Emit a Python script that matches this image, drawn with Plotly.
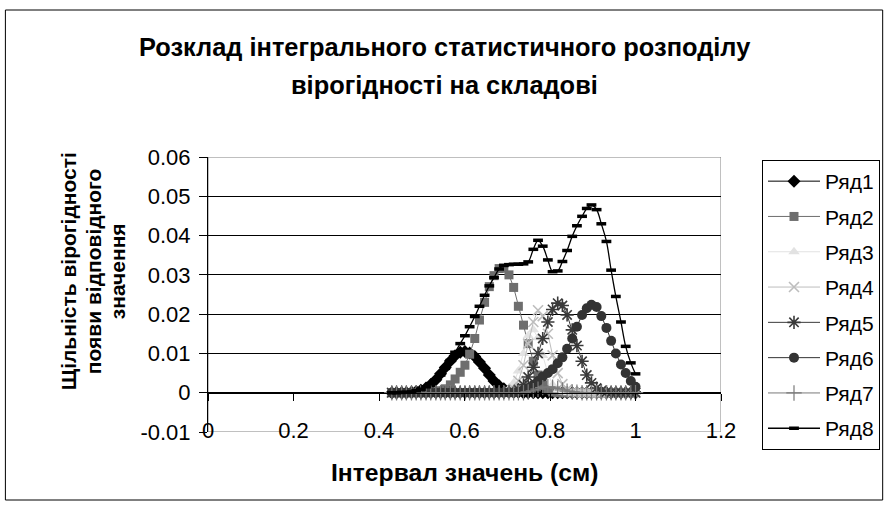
import plotly.graph_objects as go

# ---- data -------------------------------------------------------------
x_values = [0.430, 0.441, 0.453, 0.464, 0.476, 0.487, 0.498, 0.510, 0.521, 0.533,
            0.544, 0.555, 0.567, 0.578, 0.590, 0.601, 0.612, 0.624, 0.635, 0.647,
            0.658, 0.669, 0.681, 0.692, 0.704, 0.715, 0.726, 0.738, 0.749, 0.761,
            0.772, 0.783, 0.795, 0.806, 0.818, 0.829, 0.840, 0.852, 0.863, 0.875,
            0.886, 0.897, 0.909, 0.920, 0.932, 0.943, 0.954, 0.966, 0.977, 0.989,
            1.000]

ryad1 = [0, 0, 0, 0, 0.0001, 0.0003, 0.0006, 0.0012, 0.0021, 0.0033,
         0.0048, 0.0064, 0.0081, 0.0094, 0.0103, 0.0105, 0.0101, 0.0092, 0.0078, 0.0062,
         0.0045, 0.0030, 0.0018, 0.0010, 0.0005, 0.0002, 0.0001] + [0] * 24

ryad2 = [0] * 8 + [0.0001, 0.0002,
         0.0005, 0.0010, 0.0020, 0.0035, 0.0052, 0.0070, 0.0098, 0.0138, 0.0185, 0.0230,
         0.0270, 0.0298, 0.0316, 0.0317, 0.0300, 0.0268, 0.0220, 0.0172, 0.0125, 0.0080,
         0.0045, 0.0020, 0.0008, 0.0002] + [0] * 17

ryad3 = [0] * 22 + [0.0002, 0.0004, 0.0010, 0.0025, 0.0055, 0.0100, 0.0145, 0.0160,
                    0.0140, 0.0095, 0.0050, 0.0020, 0.0007, 0.0002] + [0] * 15

ryad4 = [0] * 24 + [0.0003, 0.0010, 0.0030, 0.0070, 0.0125, 0.0180, 0.0210, 0.0195,
                    0.0150, 0.0095, 0.0050, 0.0022, 0.0008, 0.0002] + [0] * 13

ryad5 = [0] * 23 + [0.0001, 0.0002, 0.0003, 0.0008, 0.0020, 0.0040, 0.0065, 0.0100,
                    0.0138, 0.0180, 0.0212, 0.0228, 0.0222, 0.0198, 0.0160, 0.0120,
                    0.0080, 0.0045, 0.0025, 0.0012, 0.0005, 0.0002] + [0] * 6

ryad6 = [0] * 26 + [0.0003, 0.0006, 0.0012, 0.0020, 0.0030, 0.0041, 0.0050, 0.0060,
                    0.0075, 0.0090, 0.0112, 0.0138, 0.0168, 0.0198, 0.0215, 0.0224,
                    0.0218, 0.0195, 0.0165, 0.0132, 0.0100, 0.0072, 0.0050, 0.0030,
                    0.0015]

ryad7 = [0] * 28 + [0.0002, 0.0005, 0.0009, 0.0013, 0.0015, 0.0014, 0.0011, 0.0007,
                    0.0004, 0.0002, 0.0001] + [0] * 12

ryad8 = [0.0000, 0.0000, 0.0001, 0.0001, 0.0002, 0.0005, 0.0009, 0.0015, 0.0023, 0.0033,
         0.0045, 0.0062, 0.0082, 0.0103, 0.0125, 0.0145, 0.0168, 0.0194, 0.0220, 0.0248,
         0.0272, 0.0293, 0.0315, 0.0324, 0.0326, 0.0327, 0.0327, 0.0328, 0.0333, 0.0365,
         0.0388, 0.0373, 0.0338, 0.0308, 0.0310, 0.0334, 0.0362, 0.0398, 0.0425, 0.0449,
         0.0469, 0.0478, 0.0466, 0.0430, 0.0385, 0.0312, 0.0245, 0.0180, 0.0118, 0.0076,
         0.0048]

series_names = ["Ряд1", "Ряд2", "Ряд3", "Ряд4", "Ряд5", "Ряд6", "Ряд7", "Ряд8"]
series_values = [ryad1, ryad2, ryad3, ryad4, ryad5, ryad6, ryad7, ryad8]

x_tick_values = [0, 0.2, 0.4, 0.6, 0.8, 1.0, 1.2]
x_tick_labels = ["0", "0.2", "0.4", "0.6", "0.8", "1", "1.2"]
y_tick_values = [-0.01, 0, 0.01, 0.02, 0.03, 0.04, 0.05, 0.06]
y_tick_labels = ["-0.01", "0", "0.01", "0.02", "0.03", "0.04", "0.05", "0.06"]

title_lines = ["Розклад інтегрального статистичного розподілу", "вірогідності на складові"]
x_title = "Інтервал значень (см)"
y_title_lines = ["Щільність вірогідності", "появи відповідного", "значення"]

# ---- styles ------------------------------------------------------------
styles = [
    dict(symbol="diamond", color="#000000", size=10, lw=0, lc="#000000", line="#000000"),
    dict(symbol="square", color="#6e6e6e", size=9, lw=0, lc="#6e6e6e", line="#6e6e6e"),
    dict(symbol="triangle-up", color="#e2e2e2", size=10, lw=0, lc="#e2e2e2", line="#e2e2e2"),
    dict(symbol="x-thin-open", color="#bdbdbd", size=10, lw=1.6, lc="#bdbdbd", line="#bdbdbd"),
    dict(symbol="asterisk-open", color="#3a3a3a", size=11, lw=1.6, lc="#3a3a3a", line="#3a3a3a"),
    dict(symbol="circle", color="#333333", size=10, lw=0, lc="#333333", line="#333333"),
    dict(symbol="cross-thin-open", color="#7a7a7a", size=11, lw=1.2, lc="#7a7a7a", line="#7a7a7a"),
    dict(symbol="line-ew-open", color="#000000", size=7, lw=3.5, lc="#000000", line="#000000"),
]

FONT = "Arial, Liberation Sans, sans-serif"

fig = go.Figure()
for i, (name, vals, st) in enumerate(zip(series_names, series_values, styles)):
    fig.add_trace(go.Scatter(
        x=x_values, y=vals, name=name, mode="lines+markers",
        legendgroup=name,
        line=dict(color=st["line"], width=1.3 if i == 7 else 1,
                  shape="spline" if i == 7 else "linear", smoothing=1.0),
        marker=dict(symbol=st["symbol"], color=st["color"], size=st["size"],
                    line=dict(width=st["lw"], color=st["lc"])),
    ))

# overlay axis crossing at y=0 (tick marks only)
fig.add_trace(go.Scatter(x=[0, 1.2], y=[0, 0], xaxis="x2", mode="lines",
                         line=dict(width=0), showlegend=False, hoverinfo="skip"))

W, H = 891, 512
L, R, T, B = 208, 169, 140, 40
pw, ph = W - L - R, H - T - B
PLOT_TOP, PLOT_BOT = 157, 432   # pixel rows of y=0.06 and y=-0.01


def px(xpix):
    return (xpix - L) / pw


def py(ypix):
    return (H - B - ypix) / ph


y_domain = [py(PLOT_BOT), py(PLOT_TOP)]
y_zero_pix = PLOT_BOT - (0 - (-0.01)) / 0.07 * (PLOT_BOT - PLOT_TOP)

annotations = [
    dict(text="<b>" + title_lines[0] + "</b>", x=px(445), y=py(47)),
    dict(text="<b>" + title_lines[1] + "</b>", x=px(445), y=py(85)),
    dict(text="<b>" + x_title + "</b>", x=px(465), y=py(472),
         font=dict(family=FONT, size=24.7, color="black")),
]
for k, (line_txt, xp) in enumerate(zip(y_title_lines, [68, 93, 117])):
    annotations.append(dict(text="<b>" + line_txt + "</b>", x=px(xp), y=py(271), textangle=-90,
                            font=dict(family=FONT, size=21, color="black")))
for a in annotations:
    a.update(xref="paper", yref="paper", showarrow=False, xanchor="center", yanchor="middle")
    a.setdefault("font", dict(family=FONT, size=25.4, color="black"))

fig.update_layout(
    width=W, height=H,
    margin=dict(l=L, r=R, t=T, b=B),
    paper_bgcolor="white", plot_bgcolor="white",
    font=dict(family=FONT, size=22, color="black"),
    showlegend=True,
    legend=dict(
        x=px(762), y=py(160), xanchor="left", yanchor="top",
        bordercolor="black", borderwidth=1, bgcolor="white",
        font=dict(family=FONT, size=21, color="black"),
        itemwidth=52, tracegroupgap=5, traceorder="grouped",
    ),
    xaxis=dict(
        range=[0, 1.2], tickvals=x_tick_values, ticktext=x_tick_labels,
        showgrid=False, zeroline=False, showline=False, ticks="", ticklen=0,
        ticklabelstandoff=-17, tickfont=dict(size=22),
    ),
    xaxis2=dict(
        range=[0, 1.2], overlaying="x", anchor="free", position=py(y_zero_pix),
        side="bottom", tickvals=x_tick_values, showticklabels=False,
        showline=True, linecolor="black", linewidth=1,
        ticks="outside", ticklen=7, tickcolor="black", showgrid=False, zeroline=False,
    ),
    yaxis=dict(
        domain=y_domain,
        range=[-0.01, 0.06], tickvals=y_tick_values, ticktext=y_tick_labels,
        showgrid=True, gridcolor="black", gridwidth=1, zeroline=False,
        showline=True, linecolor="black", linewidth=1,
        ticks="outside", ticklen=8, tickcolor="black", tickfont=dict(size=22),
        ticklabelstandoff=4,
    ),
    annotations=annotations,
    shapes=[
        # plot-area border
        dict(type="rect", xref="x", yref="y", x0=0, x1=1.2, y0=-0.01, y1=0.06,
             line=dict(color="#808080", width=1), layer="below"),
        # outer chart frame
        dict(type="rect", xref="paper", yref="paper",
             x0=px(5), x1=px(884), y0=py(500), y1=py(10),
             line=dict(color="black", width=1)),
    ],
)

fig.write_html("out.html", post_script="document.body.style.margin='0px';",
               config={"displayModeBar": False})
